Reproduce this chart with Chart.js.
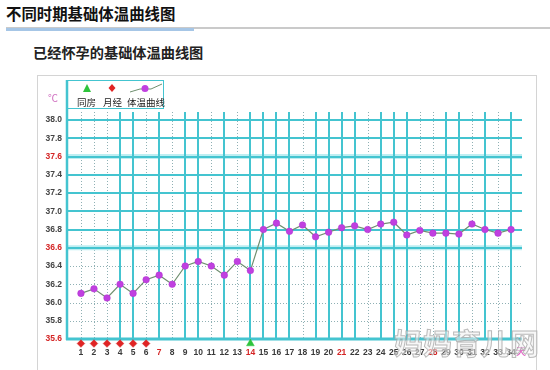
<!DOCTYPE html>
<html>
<head>
<meta charset="utf-8">
<script src="https://cdn.jsdelivr.net/npm/chart.js@4.4.0/dist/chart.umd.min.js"></script>
<style>
html,body{margin:0;padding:0;background:#fff;width:550px;height:370px;overflow:hidden;position:relative;font-family:"Noto Sans CJK SC","Noto Sans",sans-serif;}
#t1{position:absolute;left:6px;top:3px;font-size:15.4px;font-weight:bold;line-height:20px;color:#111;white-space:nowrap;}
#lg{position:absolute;left:6px;top:27px;width:544px;height:2px;background:#cacaca;}
#lb{position:absolute;left:6px;top:28px;width:188px;height:3px;background:#a6c6e6;}
#t2{position:absolute;left:33px;top:42px;font-size:14.2px;font-weight:bold;line-height:20px;color:#222;white-space:nowrap;}
#box{position:absolute;left:37px;top:75px;width:500px;height:310px;border:1px solid #d4d4d4;box-sizing:border-box;}
#c{position:absolute;left:0;top:0;}
#wm{position:absolute;left:394px;top:322px;font-size:29px;font-weight:bold;line-height:40px;color:rgba(240,240,240,0.55);-webkit-text-stroke:1px rgba(170,170,170,0.8);white-space:nowrap;letter-spacing:0px;}
</style>
</head>
<body>
<div id="t1">不同时期基础体温曲线图</div>
<div id="lg"></div><div id="lb"></div>
<div id="t2">已经怀孕的基础体温曲线图</div>
<div id="box"></div>
<canvas id="c" width="550" height="370"></canvas>
<div id="wm">妈妈育儿网</div>
<script>
// ---- data ----
const days = [1,2,3,4,5,6,7,8,9,10,11,12,13,14,15,16,17,18,19,20,21,22,23,24,25,26,27,28,29,30,31,32,33,34];
const temps = [36.10,36.15,36.05,36.20,36.10,36.25,36.30,36.20,36.40,36.45,36.40,36.30,36.45,36.35,
               36.80,36.87,36.78,36.85,36.72,36.77,36.82,36.84,36.80,36.86,36.88,36.74,36.79,36.76,
               36.76,36.75,36.86,36.80,36.76,36.80];
const mensesDays = [1,2,3,4,5,6];
const intercourseDays = [14];
const yTicks = [35.6,35.8,36.0,36.2,36.4,36.6,36.8,37.0,37.2,37.4,37.6,37.8,38.0];
const redYTicks = [35.6,36.6,37.6];
const redXTicks = [7,14,21,28];
const legendLabels = ['同房','月经','体温曲线'];
const unitY = '℃';
const unitX = '天';

// ---- styles ----
const CYAN = '#44c4d0';
const faintDays = [1,2,3,6,8,11,13,18,23,27,28,31,33];
const markerLevel = 35.55;

const gridPlugin = {
  id: 'grid',
  beforeDatasetsDraw(chart) {
    const {ctx, chartArea: a, scales: {x, y}} = chart;
    const yb = y.getPixelForValue(35.6);
    ctx.save();
    ctx.setLineDash([1, 2]);
    ctx.lineWidth = 1;
    ctx.strokeStyle = '#8fb0b4';
    days.forEach(d => {
      if (faintDays.includes(d)) {
        const px = Math.round(x.getPixelForValue(d)) + 0.5;
        ctx.beginPath(); ctx.moveTo(px, a.top); ctx.lineTo(px, yb); ctx.stroke();
      }
    });
    yTicks.forEach(v => {
      if (v > 35.7 && v < 36.5) {
        const py = Math.round(y.getPixelForValue(v)) + 0.5;
        ctx.beginPath(); ctx.moveTo(a.left, py); ctx.lineTo(a.right, py); ctx.stroke();
      }
    });
    ctx.setLineDash([]);
    yTicks.forEach(v => {
      if (redYTicks.includes(v) && v > 35.7) {
        const py = y.getPixelForValue(v);
        ctx.strokeStyle = '#bdeef2'; ctx.lineWidth = 5;
        ctx.beginPath(); ctx.moveTo(a.left, py); ctx.lineTo(a.right, py); ctx.stroke();
      }
    });
    ctx.strokeStyle = CYAN; ctx.lineWidth = 2;
    yTicks.forEach(v => {
      if (v > 36.5) {
        const py = Math.round(y.getPixelForValue(v));
        ctx.beginPath(); ctx.moveTo(a.left, py); ctx.lineTo(a.right, py); ctx.stroke();
      }
    });
    days.forEach(d => {
      if (!faintDays.includes(d)) {
        const px = Math.round(x.getPixelForValue(d));
        ctx.beginPath(); ctx.moveTo(px, a.top); ctx.lineTo(px, yb); ctx.stroke();
      }
    });
    ctx.lineWidth = 3;
    ctx.beginPath(); ctx.moveTo(a.left - 1, yb); ctx.lineTo(a.right, yb); ctx.stroke();
    ctx.lineWidth = 2.5;
    ctx.beginPath(); ctx.moveTo(a.left, 80); ctx.lineTo(a.left, yb + 1); ctx.stroke();
    ctx.restore();
  },
  afterDraw(chart) {
    const {ctx, chartArea: a} = chart;
    ctx.save();
    ctx.strokeStyle = CYAN; ctx.lineWidth = 1;
    ctx.strokeRect(a.left + 0.5, 80.5, 96, 28);
    ctx.fillStyle = '#2ec43c';
    ctx.beginPath(); ctx.moveTo(87, 84); ctx.lineTo(91, 92); ctx.lineTo(83, 92); ctx.closePath(); ctx.fill();
    ctx.fillStyle = '#e02424';
    ctx.beginPath(); ctx.moveTo(112, 84); ctx.lineTo(115.5, 88); ctx.lineTo(112, 92); ctx.lineTo(108.5, 88); ctx.closePath(); ctx.fill();
    ctx.strokeStyle = '#6f8f6f'; ctx.lineWidth = 1;
    ctx.beginPath(); ctx.moveTo(130, 92); ctx.lineTo(140, 89); ctx.lineTo(151, 89); ctx.lineTo(162, 84); ctx.stroke();
    ctx.fillStyle = '#c040e0';
    ctx.beginPath(); ctx.arc(145, 88.5, 3.5, 0, Math.PI * 2); ctx.fill();
    ctx.fillStyle = '#222';
    ctx.font = '9.5px "Noto Sans CJK SC"';
    ctx.textBaseline = 'middle'; ctx.textAlign = 'left';
    ctx.fillText(legendLabels[0], 77, 102);
    ctx.fillText(legendLabels[1], 103, 102);
    ctx.fillText(legendLabels[2], 127, 102);
    ctx.font = '10px "Noto Sans CJK SC"';
    ctx.fillStyle = '#d070c0';
    ctx.fillText(unitY, 48, 98);
    ctx.fillStyle = '#e050c0';
    ctx.fillText(unitX, 516, 351);
    ctx.restore();
  }
};

new Chart(document.getElementById('c'), {
  type: 'scatter',
  data: {
    datasets: [
      {
        data: days.map((d, i) => ({x: d, y: temps[i]})),
        showLine: true,
        borderColor: '#6f8f6f',
        borderWidth: 1.2,
        pointBackgroundColor: '#c040e0',
        pointBorderColor: '#b030d0',
        pointBorderWidth: 0.5,
        pointRadius: 3.3,
        tension: 0
      },
      {
        data: mensesDays.map(d => ({x: d, y: markerLevel})),
        pointStyle: 'rectRot',
        pointRadius: 3.8,
        pointHoverRadius: 9,
        backgroundColor: '#e02424',
        borderColor: '#d01818',
        borderWidth: 0.5,
        clip: false
      },
      {
        data: intercourseDays.map(d => ({x: d, y: markerLevel})),
        pointStyle: 'triangle',
        pointRadius: 4.5,
        pointHoverRadius: 9,
        backgroundColor: '#2ec43c',
        borderColor: '#2ec43c',
        borderWidth: 0.5,
        clip: false
      }
    ]
  },
  options: {
    responsive: false,
    animation: false,
    devicePixelRatio: 1,
    events: [],
    layout: {padding: {top: 112, right: 28, left: 0, bottom: 0}},
    plugins: {legend: {display: false}, tooltip: {enabled: false}},
    scales: {
      x: {
        type: 'linear',
        min: -0.07,
        max: 34.84,
        afterBuildTicks: s => { s.ticks = days.map(d => ({value: d})); },
        afterFit: s => { s.height = 31; },
        grid: {display: false, drawTicks: false},
        border: {display: false},
        ticks: {
          autoSkip: false,
          maxRotation: 0,
          padding: 9,
          font: {family: 'Liberation Sans', size: 8.5, weight: 'bold'},
          color: c => redXTicks.includes(c.tick.value) ? '#d42424' : '#3a3a3a',
          callback: v => String(v)
        }
      },
      y: {
        min: 35.6,
        max: 38.088,
        afterBuildTicks: s => { s.ticks = yTicks.map(v => ({value: v})); },
        afterFit: s => { s.width = 67; },
        grid: {display: false, drawTicks: false},
        border: {display: false},
        ticks: {
          autoSkip: false,
          padding: 5,
          font: {family: 'Liberation Sans', size: 8.5, weight: 'bold'},
          color: c => redYTicks.some(r => Math.abs(r - c.tick.value) < 1e-6) ? '#d42424' : '#444',
          callback: v => Number(v).toFixed(1)
        }
      }
    }
  },
  plugins: [gridPlugin]
});
</script>
</body>
</html>
